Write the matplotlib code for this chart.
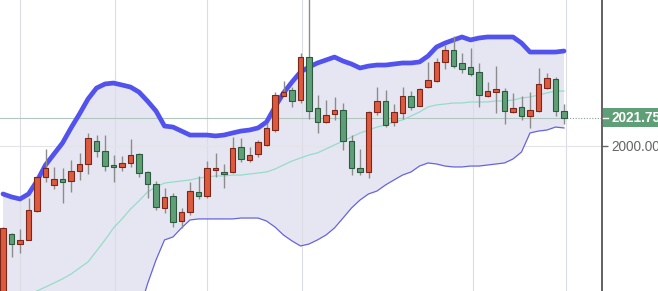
import matplotlib
matplotlib.use("Agg")
import matplotlib.pyplot as plt
from matplotlib.patches import Rectangle
import numpy as np

# ---------------------------------------------------------------------------
# candle data
opens = [1876.4, 1931.6, 1923.9, 1927.0, 1949.5, 1975.9, 1969.7, 1974.3, 1972.8, 1980.6,
         1986.0, 2003.9, 1996.1, 1985.2, 1983.7, 1986.8, 1993.8, 1979.8, 1970.5, 1951.8,
         1961.1, 1941.7, 1948.7, 1964.2, 1961.1, 1981.3, 1979.8, 1979.8, 1999.2, 1989.1,
         1993.8, 2000.8, 2012.4, 2038.8, 2043.5, 2035.7, 2069.1, 2029.5, 2018.6, 2024.9,
         2027.9, 2003.9, 1982.9, 1979.8, 2026.4, 2034.9, 2018.6, 2025.6, 2038.8, 2031.1,
         2045.8, 2050.5, 2065.3, 2074.6, 2064.5, 2061.4, 2057.5, 2038.8, 2041.9, 2042.7,
         2026.4, 2030.3, 2023.3, 2027.2, 2045.0, 2052.0, 2027.2]
highs = [1937.0, 1932.4, 1935.5, 1959.6, 1976.7, 1997.7, 1983.7, 1982.9, 1989.1, 1994.6,
         2010.1, 2008.5, 2008.5, 1993.0, 1992.2, 2005.4, 1994.6, 1980.6, 1972.8, 1967.4,
         1963.5, 1951.8, 1972.0, 1976.7, 1988.3, 1994.6, 1986.0, 2007.0, 2006.2, 1999.2,
         2004.7, 2017.9, 2041.9, 2050.5, 2045.8, 2072.2, 2117.3, 2039.6, 2035.7, 2038.0,
         2033.4, 2008.5, 1997.7, 2027.2, 2045.8, 2043.5, 2032.6, 2045.8, 2042.7, 2045.0,
         2065.3, 2068.4, 2078.5, 2085.5, 2072.2, 2076.1, 2064.5, 2049.7, 2062.1, 2045.0,
         2041.2, 2038.8, 2041.9, 2060.6, 2056.7, 2053.6, 2032.6]
lows = [1872.6, 1913.7, 1916.9, 1926.6, 1949.0, 1972.0, 1966.6, 1955.7, 1964.2, 1973.6,
        1978.2, 1991.4, 1980.6, 1972.0, 1980.6, 1983.7, 1975.9, 1959.6, 1950.3, 1947.9,
        1937.0, 1936.3, 1946.4, 1958.8, 1959.6, 1975.9, 1967.4, 1979.0, 1987.5, 1987.5,
        1991.4, 2000.0, 2010.9, 2038.5, 2030.3, 2033.4, 2020.9, 2010.1, 2017.9, 2020.2,
        1996.9, 1977.4, 1977.4, 1975.1, 2024.1, 2014.7, 2015.5, 2020.9, 2027.9, 2030.7,
        2045.2, 2049.7, 2059.8, 2060.6, 2056.7, 2054.4, 2030.3, 2038.3, 2025.6, 2017.1,
        2025.6, 2020.2, 2014.0, 2026.4, 2044.3, 2023.3, 2017.1]
closes = [1936.3, 1923.9, 1927.0, 1950.3, 1975.9, 1982.9, 1974.3, 1972.0, 1980.6, 1986.0,
          2006.2, 1996.1, 1984.4, 1983.7, 1986.8, 1993.0, 1979.0, 1970.5, 1952.6, 1960.4,
          1940.9, 1948.7, 1965.0, 1961.1, 1982.9, 1982.9, 1978.2, 1998.4, 1989.9, 1993.0,
          2003.1, 2014.0, 2039.6, 2041.9, 2034.9, 2069.1, 2027.2, 2018.6, 2024.1, 2027.9,
          2003.9, 1982.9, 1979.8, 2026.4, 2034.9, 2016.3, 2026.4, 2038.8, 2030.3, 2044.3,
          2051.3, 2065.3, 2074.6, 2062.1, 2059.8, 2055.9, 2039.6, 2042.7, 2044.3, 2027.2,
          2029.5, 2023.3, 2027.9, 2048.2, 2052.8, 2027.2, 2021.75]

# bands
upper = [1962.7, 1960.4, 1958.8, 1962.7, 1972.8, 1985.2, 1993.8, 2002.3, 2014.0, 2024.9,
         2036.5, 2045.0, 2048.2, 2048.9, 2047.4, 2045.8, 2041.9, 2034.9, 2027.2, 2015.5,
         2014.7, 2011.6, 2008.5, 2008.5, 2008.5, 2007.8, 2008.5, 2010.1, 2011.6, 2012.4,
         2014.0, 2018.6, 2030.3, 2041.2, 2049.7, 2057.5, 2061.4, 2064.5, 2066.8, 2069.1,
         2066.0, 2063.7, 2060.6, 2062.1, 2062.9, 2062.9, 2063.7, 2064.5, 2064.5, 2065.3,
         2069.9, 2076.9, 2080.0, 2082.4, 2084.7, 2082.4, 2083.9, 2084.7, 2084.7, 2084.7,
         2084.7, 2080.0, 2073.0, 2073.0, 2073.0, 2073.0, 2073.8]
middle = [1876.4, 1879.6, 1882.7, 1885.0, 1887.3, 1890.4, 1893.5, 1896.7, 1900.5, 1905.2,
          1909.9, 1918.4, 1927.0, 1936.3, 1943.3, 1951.0, 1957.3, 1964.2, 1968.1, 1971.2,
          1972.0, 1972.8, 1973.6, 1975.1, 1975.9, 1976.7, 1976.7, 1977.4, 1977.4, 1978.2,
          1979.0, 1979.8, 1982.1, 1985.2, 1988.3, 1990.7, 1993.0, 1994.6, 1997.7, 2000.8,
          2003.9, 2007.0, 2010.1, 2012.4, 2014.7, 2016.3, 2018.6, 2020.2, 2023.3, 2026.4,
          2030.3, 2031.9, 2032.6, 2033.4, 2033.4, 2034.2, 2034.2, 2034.2, 2035.0, 2035.0,
          2035.7, 2037.3, 2038.1, 2039.6, 2041.2, 2042.7, 2042.7]
lower = [1812.0, 1810.0, 1808.0, 1805.0, 1801.9, 1795.6, 1793.3, 1791.0, 1785.5, 1785.5,
         1783.2, 1791.8, 1804.2, 1822.1, 1839.2, 1856.2, 1871.0, 1892.8, 1911.4, 1927.0,
         1929.3, 1936.3, 1942.5, 1943.3, 1943.3, 1943.3, 1943.3, 1943.3, 1944.0, 1944.0,
         1944.0, 1941.7, 1937.0, 1930.8, 1926.2, 1922.3, 1923.8, 1927.0, 1930.8, 1936.3,
         1944.0, 1951.8, 1958.0, 1962.7, 1965.0, 1969.7, 1973.6, 1977.4, 1979.8, 1984.4,
         1986.8, 1986.0, 1984.4, 1983.7, 1983.7, 1984.4, 1984.4, 1985.2, 1986.0, 1986.8,
         1989.9, 1995.3, 2010.1, 2011.6, 2012.4, 2014.7, 2014.0]

last_price = 2021.75
tick_prices = [2000.0]

# ---------------------------------------------------------------------------
W, H = 658, 291
fig = plt.figure(figsize=(W / 100, H / 100), dpi=100)
fig.patch.set_facecolor("white")
ax = fig.add_axes([0, 0, 602 / W, 1])
ax.set_facecolor("white")

x = np.arange(len(opens))
o = np.array(opens)
c = np.array(closes)
hi = np.array(highs)
lo = np.array(lows)

ax.set_xlim(-0.353, 70.47)
ax.set_ylim(1887.3, 2113.44)

# grid
for gx in [2.0, 13.2, 24.0, 35.2, 55.3, 66.2]:
    ax.axvline(gx, color="#dcdce4", lw=0.8, zorder=1)
for gy in tick_prices:
    ax.axhline(gy, color="#e4e4e8", lw=0.8, zorder=1)

# bands
ax.fill_between(x, lower, upper, color="#e6e6f3", lw=0, zorder=0.5)
ax.plot(x, middle, color="#95dcc8", lw=0.9, zorder=2)
ax.plot(x, lower, color="#6464e2", lw=0.9, zorder=2)
ax.plot(x, upper, color="#5252ee", lw=3.4, solid_capstyle="round",
        solid_joinstyle="round", zorder=2.5)

# last price line
ax.plot([x[0] - 1, x[-1]], [last_price, last_price], color="#b2c6c0", lw=0.8, zorder=1.5)
ax.plot([x[-1], 71], [last_price, last_price], color="#8a9e96", lw=0.8,
        ls=(0, (1, 1.5)), zorder=1.5)

# candles
up = c >= o
ax.vlines(x, lo, hi, color="#8c8c8c", lw=1.0, zorder=3)
bottoms = np.minimum(o, c)
heights = np.maximum(np.abs(c - o), 1.3)
ax.bar(x[up], heights[up], bottom=bottoms[up], width=0.68,
       color="#dd5a3f", edgecolor="#7a2618", lw=0.8, zorder=4)
ax.bar(x[~up], heights[~up], bottom=bottoms[~up], width=0.68,
       color="#5f9f77", edgecolor="#2c5a3c", lw=0.8, zorder=4)

# right axis
for s in ["top", "left", "bottom"]:
    ax.spines[s].set_visible(False)
ax.spines["right"].set_color("#555555")
ax.spines["right"].set_linewidth(1.3)
ax.set_xticks([])
ax.yaxis.tick_right()
ax.set_yticks(tick_prices)
ax.set_yticklabels([f"{p:.2f}" for p in tick_prices])
ax.tick_params(axis="y", direction="out", length=4, width=1, color="#666666",
               labelcolor="#666666", labelsize=9.8, pad=3)
for lab in ax.get_yticklabels():
    lab.set_family("Liberation Sans")

# last price tag
y_pix = ax.transData.transform((0, last_price))[1]
tag = Rectangle((603 / W, (y_pix - 9.5) / H), 60 / W, 19 / H, transform=fig.transFigure,
                facecolor="#5f9f77", edgecolor="none", clip_on=False)
fig.patches.append(tag)
fig.lines.append(plt.Line2D([603 / W, 608 / W], [y_pix / H, y_pix / H],
                            transform=fig.transFigure, color="white", lw=1))
fig.text(611 / W, y_pix / H, f"{last_price:.2f}", color="white", fontsize=9.8,
         fontweight="bold", family="Liberation Sans", va="center", ha="left")

fig.savefig("out.png", dpi=100)
